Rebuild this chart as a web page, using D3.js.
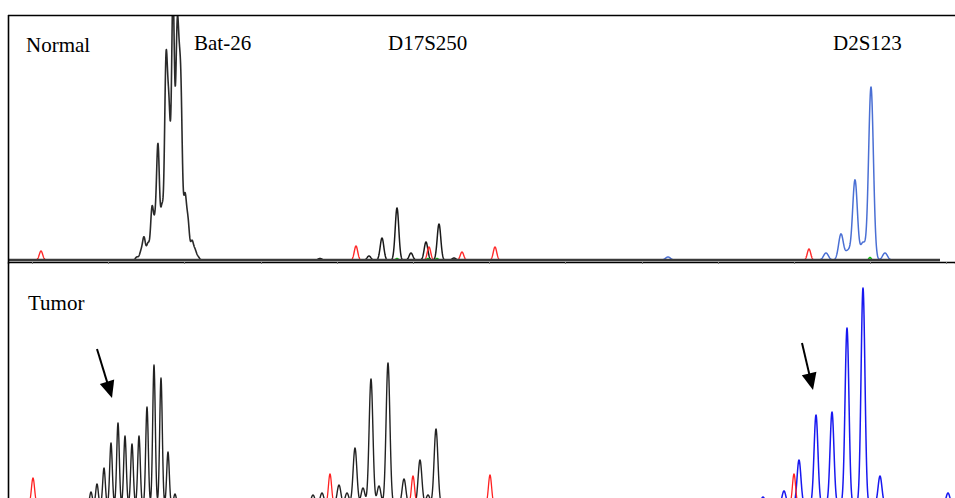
<!DOCTYPE html>
<html>
<head>
<meta charset="utf-8">
<script src="https://cdn.jsdelivr.net/npm/d3@7"></script>
<style>
  html, body { margin: 0; padding: 0; background: #fff; }
  svg { display: block; }
  text { font-family: "Liberation Serif", "Times New Roman", serif; }
</style>
</head>
<body>
<svg id="chart" width="955" height="498"></svg>
<script>
// ---------- DATA (peak position in scan units, peak height in RFU) ----------
const panels = ["Normal", "Tumor"];
const markers = ["Bat-26", "D17S250", "D2S123"];
const markerPos = [186, 380, 825];

// Normal sample
const normalBlackPos = [129, 133, 136, 140, 144, 147, 150, 154, 158, 161, 165, 169, 171, 173, 177, 180, 184, 187, 190,
                        312, 361, 374, 389, 403, 418, 431, 446];
const normalBlackH   = [3, 8, 22, 16, 50, 30, 112, 50, 190, 135, 262, 190, 95, 140, 60, 36, 18, 9, 3,
                        1.5, 4, 22, 52, 7, 18, 36, 2];
const normalRedPos   = [33, 348, 421, 454, 487, 801];
const normalRedH     = [9, 14, 13, 8, 13, 11];
const normalBluePos  = [660, 818, 833, 840, 847, 855, 863, 877];
const normalBlueH    = [3, 7, 26, 9, 80, 17, 173, 7];
const normalGreenPos = [389, 420, 429, 862];
const normalGreenH   = [1.5, 1.5, 1.5, 2.5];

// Tumor sample
const tumorBlackPos = [83, 89, 96, 103, 110, 117, 124, 131, 139, 146, 153, 160, 167,
                       305, 314, 331, 339, 347, 355, 363, 371, 380, 396, 412, 420, 428];
const tumorBlackH   = [13, 21, 37, 62, 82, 69, 61, 69, 98, 140, 127, 53, 11,
                       10, 12, 20, 12, 57, 17, 126, 19, 142, 26, 45, 10, 76];
const tumorRedPos   = [25, 322, 405, 482, 786];
const tumorRedH     = [27, 31, 29, 30, 31];
const tumorBluePos  = [755, 776, 791, 808, 824, 839, 855, 872, 926, 940];
const tumorBlueH    = [8, 14, 45, 90, 93, 177, 217, 29, 4, 12];

// Arrow annotations (tumor panel), [scan, RFU] tail -> tip
const arrowTails = [[89, 156], [794, 162]];
const arrowTips  = [[104, 107], [805, 115]];

const tickValues = [24, 100, 176, 253, 329, 405, 481, 557, 634, 710, 786, 862, 938];

// ---------- DRAWING ----------
const svg = d3.select("#chart");
const W = 955, H = 498;

const x = d3.scaleLinear().domain([0, 947]).range([8, 955]);
const yTop = d3.scaleLinear().domain([0, 245]).range([260, 15]);
const yBot = d3.scaleLinear().domain([0, 240]).range([505, 265]);

const defs = svg.append("defs");
defs.append("clipPath").attr("id", "clipTop")
  .append("rect").attr("x", 9).attr("y", 16).attr("width", W).attr("height", 246);
defs.append("clipPath").attr("id", "clipBot")
  .append("rect").attr("x", 9).attr("y", 263).attr("width", W).attr("height", H - 263);

function trace(pos, hts, sigma, x0, x1) {
  const pts = [];
  for (let s = x0; s <= x1; s += 0.2) {
    let v = 0;
    for (let i = 0; i < pos.length; i++) {
      const d = (s - pos[i]) / sigma;
      if (Math.abs(d) < 6) v += hts[i] * Math.exp(-0.5 * d * d);
    }
    pts.push([s, v]);
  }
  return pts;
}

function drawTrace(g, yS, pos, hts, sigma, color, width, x1) {
  const data = trace(pos, hts, sigma, 0, x1);
  const line = d3.line()
    .defined(d => d[1] > 0.03)
    .x(d => x(d[0])).y(d => yS(d[1]));
  g.append("path").datum(data)
    .attr("d", line)
    .attr("fill", "none")
    .attr("stroke", color)
    .attr("stroke-width", width)
    .attr("stroke-linejoin", "round");
}

// top panel
const gTop = svg.append("g").attr("clip-path", "url(#clipTop)");
drawTrace(gTop, yTop, normalBluePos, normalBlueH, 2.4, "#4a6fd4", 1.5, 932);
drawTrace(gTop, yTop, normalBlackPos.slice(0, 19), normalBlackH.slice(0, 19), 1.45, "#2a2a2a", 1.6, 932);
drawTrace(gTop, yTop, normalBlackPos.slice(19), normalBlackH.slice(19), 1.8, "#1a1a1a", 1.5, 932);
drawTrace(gTop, yTop, normalRedPos, normalRedH, 1.7, "#ff2a2a", 1.4, 932);
drawTrace(gTop, yTop, normalGreenPos, normalGreenH, 1.2, "#10c010", 1.5, 932);

// top baseline
svg.append("line").attr("x1", 8).attr("x2", x(932)).attr("y1", yTop(0)).attr("y2", yTop(0))
  .attr("stroke", "#3a3a3a").attr("stroke-width", 2.4);

// ticks below top baseline
const axis = d3.axisBottom(x).tickValues(tickValues).tickSize(2).tickFormat("");
const gAx = svg.append("g").attr("transform", "translate(0,262)").call(axis);
gAx.select(".domain").attr("stroke", "#000").attr("stroke-width", 1.3);
gAx.selectAll(".tick line").attr("stroke", "#777");

// bottom panel
const gBot = svg.append("g").attr("clip-path", "url(#clipBot)");
drawTrace(gBot, yBot, tumorBlackPos.slice(0, 13), tumorBlackH.slice(0, 13), 1.3, "#222", 1.4, 947);
drawTrace(gBot, yBot, tumorBlackPos.slice(13), tumorBlackH.slice(13), 1.9, "#222", 1.4, 947);
drawTrace(gBot, yBot, tumorBluePos, tumorBlueH, 1.95, "#1818f0", 1.5, 947);
drawTrace(gBot, yBot, tumorRedPos, tumorRedH, 1.6, "#ff2020", 1.3, 947);

// frame
svg.append("line").attr("x1", 8).attr("x2", W).attr("y1", 15.5).attr("y2", 15.5)
  .attr("stroke", "#000").attr("stroke-width", 1.6);
svg.append("line").attr("x1", 8.5).attr("x2", 8.5).attr("y1", 15).attr("y2", H)
  .attr("stroke", "#000").attr("stroke-width", 1.6);

// labels
svg.append("text").attr("x", 26).attr("y", 52).attr("font-size", 21).text(panels[0]);
svg.append("text").attr("x", 28).attr("y", 310).attr("font-size", 21).text(panels[1]);
markers.forEach((m, i) => {
  svg.append("text").attr("x", x(markerPos[i])).attr("y", 50).attr("font-size", 21).text(m);
});

// arrows
arrowTails.forEach((t, i) => {
  const p = arrowTips[i];
  const x0 = x(t[0]), y0 = yBot(t[1]), x1 = x(p[0]), y1 = yBot(p[1]);
  const dx = x1 - x0, dy = y1 - y0, L = Math.hypot(dx, dy);
  const ux = dx / L, uy = dy / L;
  const hl = 17, hw = 7.5;
  const bx = x1 - ux * hl, by = y1 - uy * hl;
  svg.append("line").attr("x1", x0).attr("y1", y0).attr("x2", bx + ux * 2).attr("y2", by + uy * 2)
    .attr("stroke", "#000").attr("stroke-width", 2);
  svg.append("path")
    .attr("d", `M${x1},${y1}L${bx - uy * hw},${by + ux * hw}L${bx + uy * hw},${by - ux * hw}Z`)
    .attr("fill", "#000");
});
</script>
</body>
</html>
